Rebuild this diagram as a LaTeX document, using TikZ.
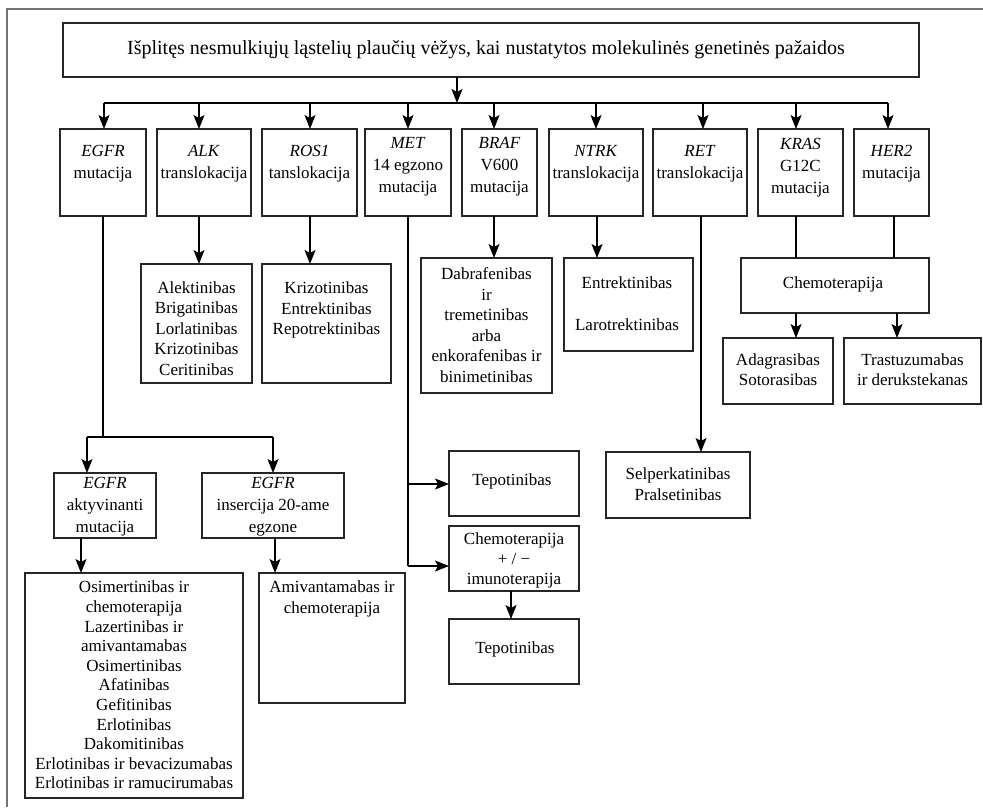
\documentclass[tikz,border=0pt]{standalone}
\usepackage{fontspec}
\setmainfont{Liberation Serif}
\usetikzlibrary{arrows.meta}
\tikzset{
  box/.style={draw=black!85, line width=1.2pt, inner sep=0pt, outer sep=0pt},
  txt/.style={align=center, inner sep=0pt, font=\fontsize{17}{20.5}\selectfont},
  toptxt/.style={align=center, inner sep=0pt, font=\fontsize{17}{22}\selectfont},
  wire/.style={draw=black, line width=1.1pt},
  arr/.style={wire, -{Stealth[length=14pt,width=11pt,inset=3pt]}},
  frame/.style={draw=black!55, line width=1.3pt}
}
% \mkbox{name}{left}{top}{right}{bottom}
\newcommand{\mkbox}[5]{\node[box, minimum width={(#4-#2)*1pt}, minimum height={(#5-#3)*1pt}] (#1) at ({(#2+#4)/2},{(#3+#5)/2}) {};}
\begin{document}
\begin{tikzpicture}[x=1pt, y=-1pt]
\useasboundingbox (0,0) rectangle (983,807);
% page frame
\draw[frame] (983,9) -- (7,9) -- (7,807);

% title
\mkbox{top}{63}{23}{919}{77}
\node[txt, font=\fontsize{20}{24}\selectfont] (top-t) at (486,50) {Išplitęs nesmulkiųjų ląstelių plaučių vėžys, kai nustatytos molekulinės genetinės pažaidos};

% first tier
\mkbox{egfr}{60}{129}{146}{216}
\mkbox{alk}{157}{129}{251}{216}
\mkbox{ros}{262}{129}{357}{216}
\mkbox{met}{365}{129}{451}{216}
\mkbox{braf}{462}{129}{537}{216}
\mkbox{ntrk}{549}{129}{643}{216}
\mkbox{ret}{653}{129}{747}{216}
\mkbox{kras}{758}{129}{843}{216}
\mkbox{her}{854}{129}{929}{216}
\node[toptxt] (egfr-t) at (103,164) {\textit{EGFR}\\mutacija};
\node[toptxt] (alk-t) at (204,164) {\textit{ALK}\\translokacija};
\node[toptxt] (ros-t) at (309.5,164) {\textit{ROS1}\\tanslokacija};
\node[toptxt] (met-t) at (408,167) {\textit{MET}\\14 egzono\\mutacija};
\node[toptxt] (braf-t) at (499.5,167) {\textit{BRAF}\\V600\\mutacija};
\node[toptxt] (ntrk-t) at (596,164) {\textit{NTRK}\\translokacija};
\node[toptxt] (ret-t) at (700,164) {\textit{RET}\\translokacija};
\node[toptxt] (kras-t) at (800.5,168) {\textit{KRAS}\\G12C\\mutacija};
\node[toptxt] (her-t) at (891.5,164) {\textit{HER2}\\mutacija};

% distribution from the title
\coordinate (j0) at (457,103);
\coordinate (jl) at (104,103);
\coordinate (jr) at (888,103);
\draw[arr] (top.south -| j0) -- (j0);
\draw[wire] (jl) -- (jr);
\coordinate (a1) at (104,103);
\coordinate (a2) at (199,103);
\coordinate (a3) at (310,103);
\coordinate (a4) at (408,103);
\coordinate (a5) at (494,103);
\coordinate (a6) at (596,103);
\coordinate (a7) at (703,103);
\coordinate (a8) at (796,103);
\coordinate (a9) at (888,103);
\draw[arr] (a1) -- (a1 |- egfr.north);
\draw[arr] (a2) -- (a2 |- alk.north);
\draw[arr] (a3) -- (a3 |- ros.north);
\draw[arr] (a4) -- (a4 |- met.north);
\draw[arr] (a5) -- (a5 |- braf.north);
\draw[arr] (a6) -- (a6 |- ntrk.north);
\draw[arr] (a7) -- (a7 |- ret.north);
\draw[arr] (a8) -- (a8 |- kras.north);
\draw[arr] (a9) -- (a9 |- her.north);

% second tier
\mkbox{alkrx}{141}{264}{252}{383}
\node[txt] (alkrx-t) at (196.5,328.5) {Alektinibas\\Brigatinibas\\Lorlatinibas\\Krizotinibas\\Ceritinibas};
\mkbox{rosrx}{262}{264}{391}{383}
\node[txt] (rosrx-t) at (326.5,310) {Krizotinibas\\Entrektinibas\\Repotrektinibas};
\mkbox{brafrx}{421}{258}{552}{393}
\node[txt] (brafrx-t) at (486.5,325) {Dabrafenibas\\ir\\tremetinibas\\arba\\enkorafenibas ir\\binimetinibas};
\mkbox{ntrkrx}{564}{258}{693}{351}
\node[txt] (ntrkrx-t) at (627,303.5) {Entrektinibas\\[22pt]Larotrektinibas};
\mkbox{chemo}{741}{258}{929}{313}
\node[txt] (chemo-t) at (833,284) {Chemoterapija};
\mkbox{krasrx}{723}{338}{833}{404}
\node[txt] (krasrx-t) at (778,369.5) {Adagrasibas\\Sotorasibas};
\mkbox{herrx}{844}{338}{981}{404}
\node[txt] (herrx-t) at (912.5,369.5) {Trastuzumabas\\ir derukstekanas};

\coordinate (b2) at (199,216);
\coordinate (b3) at (310,216);
\coordinate (b5) at (494,216);
\coordinate (b6) at (597,216);
\coordinate (b8) at (796,216);
\coordinate (b9) at (894,216);
\coordinate (c8) at (796,313);
\coordinate (c9) at (897,313);
\draw[arr] (b2) -- (b2 |- alkrx.north);
\draw[arr] (b3) -- (b3 |- rosrx.north);
\draw[arr] (b5) -- (b5 |- brafrx.north);
\draw[arr] (b6) -- (b6 |- ntrkrx.north);
\draw[wire] (b8) -- (b8 |- chemo.north);
\draw[wire] (b9) -- (b9 |- chemo.north);
\draw[arr] (c8) -- (c8 |- krasrx.north);
\draw[arr] (c9) -- (c9 |- herrx.north);

% RET branch
\mkbox{retrx}{606}{452}{750}{518}
\node[txt] (retrx-t) at (678,484) {Selperkatinibas\\Pralsetinibas};
\coordinate (r0) at (701,216);
\draw[arr] (r0) -- (r0 |- retrx.north);

% MET branch
\mkbox{tep1}{449}{451}{579}{516}
\node[txt] (tep1-t) at (512,481) {Tepotinibas};
\mkbox{chi}{449}{526}{579}{591}
\node[txt, font=\fontsize{17}{20}\selectfont] (chi-t) at (514,560) {Chemoterapija\\+ / −\\imunoterapija};
\mkbox{tep2}{449}{619}{579}{684}
\node[txt] (tep2-t) at (515,649) {Tepotinibas};
\coordinate (m0) at (408,216);
\coordinate (m1) at (408,484);
\coordinate (m2) at (408,566);
\draw[wire] (m0) -- (m2);
\draw[arr] (m1) -- (m1 -| tep1.west);
\draw[arr] (m2) -- (m2 -| chi.west);
\coordinate (m3) at (511,591);
\draw[arr] (m3) -- (m3 |- tep2.north);

% EGFR branch
\mkbox{act}{54}{473}{156}{538}
\node[toptxt] (act-t) at (105,506.5) {\textit{EGFR}\\aktyvinanti\\mutacija};
\mkbox{ins}{202}{473}{344}{538}
\node[toptxt] (ins-t) at (273,506.5) {\textit{EGFR}\\insercija 20-ame\\egzone};
\coordinate (e0) at (103,216);
\coordinate (e1) at (103,437);
\coordinate (e2) at (87,437);
\coordinate (e3) at (273,437);
\draw[wire] (e0) -- (e1);
\draw[wire] (e2) -- (e3);
\draw[arr] (e2) -- (e2 |- act.north);
\draw[arr] (e3) -- (e3 |- ins.north);

\mkbox{actrx}{25}{573}{243}{798}
\node[txt, font=\fontsize{17}{19.6}\selectfont] (actrx-t) at (134,685) {Osimertinibas ir\\chemoterapija\\Lazertinibas ir\\amivantamabas\\Osimertinibas\\Afatinibas\\Gefitinibas\\Erlotinibas\\Dakomitinibas\\Erlotinibas ir bevacizumabas\\Erlotinibas ir ramucirumabas};
\mkbox{insrx}{259}{573}{405}{703}
\node[txt] (insrx-t) at (332,599) {Amivantamabas ir\\chemoterapija};
\coordinate (f1) at (81,538);
\coordinate (f2) at (275,538);
\draw[arr] (f1) -- (f1 |- actrx.north);
\draw[arr] (f2) -- (f2 |- insrx.north);
\end{tikzpicture}
\end{document}
